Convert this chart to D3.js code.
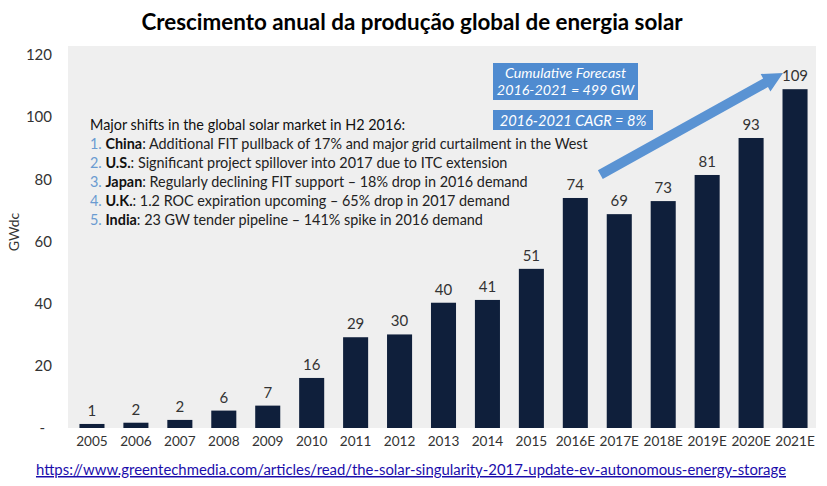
<!DOCTYPE html>
<html><head><meta charset="utf-8">
<script src="https://cdn.jsdelivr.net/npm/d3@7"></script>
<style>
body{margin:0;background:#fff;}
text{font-family:Lato,"Open Sans",sans-serif;}
</style></head>
<body><svg id="c" width="827" height="486"></svg>
<script>
const title = "Crescimento anual da produção global de energia solar";
const categories = ["2005","2006","2007","2008","2009","2010","2011","2012","2013","2014","2015","2016E","2017E","2018E","2019E","2020E","2021E"];
const values = [1.3,1.7,2.6,5.6,7.2,16.1,29.2,30.1,40.3,41.2,51.2,74,68.8,73,81.4,93.3,109];
const valueLabels = ["1","2","2","6","7","16","29","30","40","41","51","74","69","73","81","93","109"];
const yTicks = [0,20,40,60,80,100,120];
const yTickLabels = ["-","20","40","60","80","100","120"];
const yTitle = "GWdc";
const noteHeading = "Major shifts in the global solar market in H2 2016:";
const noteNums = ["1.","2.","3.","4.","5."];
const noteBold = ["China","U.S.","Japan","U.K.","India"];
const noteRest = [": Additional FIT pullback of 17% and major grid curtailment in the West",
  ": Significant project spillover into 2017 due to ITC extension",
  ": Regularly declining FIT support – 18% drop in 2016 demand",
  ": 1.2 ROC expiration upcoming – 65% drop in 2017 demand",
  ": 23 GW tender pipeline – 141% spike in 2016 demand"];
const forecastBox = ["Cumulative Forecast","2016-2021 = 499 GW"];
const cagrBox = "2016-2021 CAGR = 8%";
const arrowFrom = ["2016E", 81.5];   // data-space anchor (category, value)
const arrowTo = ["2021E", 114.2];
const sourceUrl = "https://www.greentechmedia.com/articles/read/the-solar-singularity-2017-update-ev-autonomous-energy-storage";

const svg = d3.select("#c");
const x = d3.scaleBand().domain(categories).range([70, 817]).paddingInner(0.43).paddingOuter(0.215);
const y = d3.scaleLinear().domain([0,120]).range([428, 55]);

// plot background
svg.append("rect").attr("x",68).attr("y",46).attr("width",748).attr("height",382).attr("fill","#efefef");

// title
svg.append("text").attr("x",412).attr("y",30).attr("text-anchor","middle")
  .attr("font-size",22.4).attr("font-weight","bold").attr("fill","#000").text(title);

// y axis
const yAxis = d3.axisLeft(y).tickValues(yTicks).tickSize(0).tickPadding(0)
  .tickFormat((d,i)=>yTickLabels[i]);
const gy = svg.append("g").attr("transform","translate(52,0)").call(yAxis);
gy.select(".domain").remove();
gy.selectAll("text").attr("font-size",15).attr("fill","#333").attr("font-family","Lato,sans-serif")
  .attr("dx", (d)=> d===0 ? -7 : 0);

svg.append("text").attr("transform","translate(19,232) rotate(-90)").attr("text-anchor","middle")
  .attr("font-size",14).attr("fill","#333").text(yTitle);

// x axis
const xAxis = d3.axisBottom(x).tickSize(0).tickPadding(7);
const gx = svg.append("g").attr("transform","translate(0,429)").call(xAxis);
gx.select(".domain").remove();
gx.selectAll("text").attr("font-size",13.6).attr("fill","#333").attr("font-family","Lato,sans-serif");

// bars
svg.append("g").selectAll("rect").data(values).join("rect")
  .attr("x",(d,i)=>x(categories[i])).attr("width",x.bandwidth())
  .attr("y",d=>y(d)).attr("height",d=>y(0)-y(d)).attr("fill","#0f1f3b");

svg.append("g").selectAll("text").data(values).join("text")
  .attr("x",(d,i)=>x(categories[i])+x.bandwidth()/2).attr("y",d=>y(d)-8)
  .attr("text-anchor","middle").attr("font-size",15).attr("fill","#333")
  .text((d,i)=>valueLabels[i]);

// note text
const note = svg.append("g");
note.append("text").attr("x",90).attr("y",130).attr("font-size",14.4).attr("fill","#111").text(noteHeading);
noteNums.forEach((n,i)=>{
  const t = note.append("text").attr("x",90).attr("y",149+i*19).attr("font-size",14.4).attr("fill","#222");
  t.append("tspan").attr("fill","#6a9bd1").text(n+" ");
  t.append("tspan").attr("font-weight","bold").attr("fill","#111").text(noteBold[i]);
  t.append("tspan").text(noteRest[i]);
});

// blue boxes
svg.append("rect").attr("x",493).attr("y",63).attr("width",145).attr("height",37).attr("fill","#4f8bd0");
forecastBox.forEach((s,i)=>{
  svg.append("text").attr("x",565.5).attr("y",78+i*17).attr("text-anchor","middle")
    .attr("font-size",14.3).attr("font-style","italic").attr("fill","#fff").text(s);
});
svg.append("rect").attr("x",493).attr("y",110).attr("width",160).attr("height",20).attr("fill","#4f8bd0");
svg.append("text").attr("x",573).attr("y",125.5).attr("text-anchor","middle")
  .attr("font-size",14.6).attr("font-style","italic").attr("fill","#fff").text(cagrBox);

// arrow
const x0 = x(arrowFrom[0]) + x.bandwidth()/2 + 25, y0 = y(arrowFrom[1]);
const x1 = x(arrowTo[0]) + x.bandwidth()/2 - 12, y1 = y(arrowTo[1]);
const ang = Math.atan2(y1-y0, x1-x0), len = Math.hypot(x1-x0, y1-y0);
const sw = 5, hw = 10, hl = 20;
const ag = svg.append("g").attr("transform",`translate(${x0},${y0}) rotate(${ang*180/Math.PI})`);
ag.append("path").attr("d",`M0,${-sw} L${len-hl},${-sw} L${len-hl},${-hw} L${len},0 L${len-hl},${hw} L${len-hl},${sw} L0,${sw} Z`)
  .attr("fill","#5a93d3");

// source link
svg.append("text").attr("x",411).attr("y",475).attr("text-anchor","middle")
  .attr("font-size",14.9).attr("fill","#1a0dab").attr("text-decoration","underline").text(sourceUrl);
</script></body></html>
